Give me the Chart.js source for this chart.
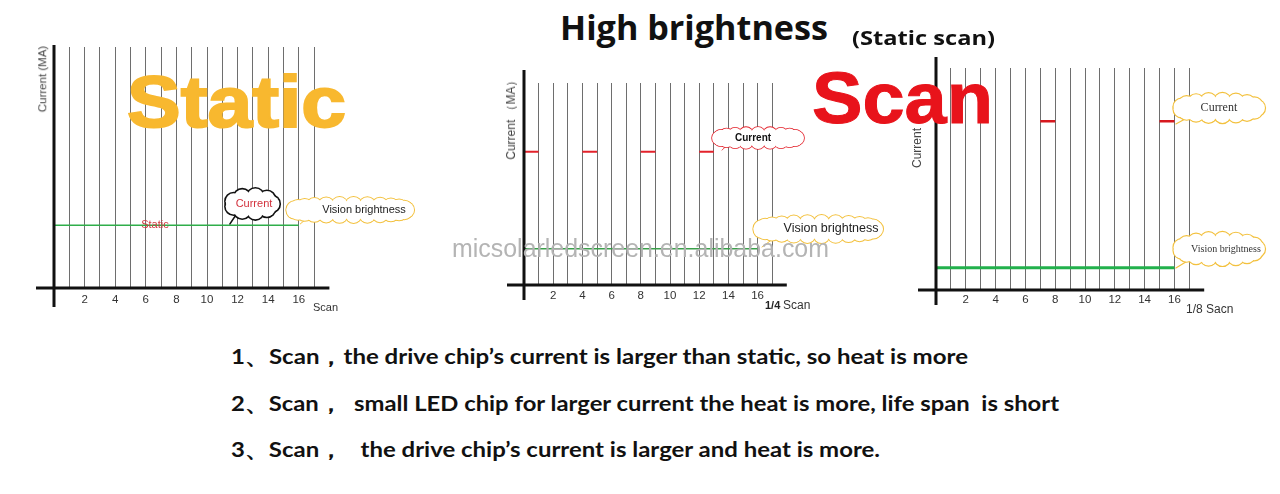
<!DOCTYPE html>
<html>
<head>
<meta charset="utf-8">
<script src="https://cdn.jsdelivr.net/npm/chart.js@4.4.0/dist/chart.umd.min.js"></script>
<style>
html, body { margin: 0; padding: 0; background: #fff; }
body { width: 1280px; height: 494px; position: relative; overflow: hidden; font-family: "Liberation Sans", Arial, sans-serif; }
canvas { position: absolute; }
.t { position: absolute; white-space: pre; line-height: 1; transform-origin: 0 0; }
.rot { position: absolute; white-space: nowrap; line-height: 1; transform: translate(-50%, -50%) rotate(-90deg); color: #444; }
</style>
</head>
<body>
<canvas id="chartStatic" width="440" height="320" style="left:0px;top:0px"></canvas>
<canvas id="chartQuarter" width="420" height="260" style="left:480px;top:60px"></canvas>
<canvas id="chartEighth" width="380" height="290" style="left:900px;top:40px"></canvas>

<div class="rot" style="left:43px;top:79px;font-size:11.5px">Current (MA)</div>
<div class="rot" style="left:511px;top:117px;font-size:12px">Current （MA）</div>
<div class="rot" style="left:917px;top:148px;font-size:12px">Current</div>

<div class="t" style="left:313px;top:302px;font-size:11px;color:#333">Scan</div>
<div class="t" style="left:765px;top:300px;font-size:11px;font-weight:700;color:#222">1/4</div>
<div class="t" style="left:783px;top:299px;font-size:12px;color:#333">Scan</div>
<div class="t" style="left:1186px;top:303px;font-size:12px;color:#333">1/8 Sacn</div>

<div class="t" data-w="377" style="left:452px;top:235px;font-size:26px;color:#b4b4b4">micsolarledscreen.en.alibaba.com</div>

<div class="t" data-w="219" style="left:127px;top:66px;font-size:72px;font-weight:700;color:#f8b82f;-webkit-text-stroke:2px #f8b82f">Static</div>
<div class="t" data-w="181" style="left:812px;top:62px;font-size:72px;font-weight:700;color:#e8131b;-webkit-text-stroke:1px #e8131b">Scan</div>

<div class="t" data-w="268" style="left:560px;top:10px;font-family:'Open Sans';font-size:34px;font-weight:700;color:#111">High brightness</div>
<div class="t" data-w="143" style="left:852px;top:29px;font-family:'Open Sans';font-size:19px;font-weight:700;color:#111">(Static scan)</div>

<div class="t" data-w="737" style="left:231px;top:345px;font-family:Lato;font-size:21px;font-weight:700;color:#111">1、Scan，the drive chip’s current is larger than static, so heat is more</div>
<div class="t" data-w="828" style="left:231px;top:392px;font-family:Lato;font-size:21px;font-weight:700;color:#111">2、Scan，  small LED chip for larger current the heat is more, life span  is short</div>
<div class="t" data-w="649" style="left:231px;top:438px;font-family:Lato;font-size:21px;font-weight:700;color:#111">3、Scan，   the drive chip’s current is larger and heat is more.</div>

<script>
// x axis: 17 scan lines, only the even ones carry a label
var scanLines = [1, 2, 3, 4, 5, 6, 7, 8, 9, 10, 11, 12, 13, 14, 15, 16, 17];
var tickLabels = ['2', '4', '6', '8', '10', '12', '14', '16'];
var xMax = 18;
var yMax = 10;

// static drive: current == vision brightness, one flat line
var staticX = [0, 16];
var staticLevel = 2.6;

// 1/4 scan: each row lit 1 slot in 4, at a higher current
var quarterOnStart = [0, 4, 8, 12];
var quarterOnEnd = [1, 5, 9, 13];
var quarterCurrent = 6.6;
var quarterVisionX = [0, 16];
var quarterVision = 1.8;

// 1/8 scan
var eighthOnStart = [7, 15];
var eighthOnEnd = [8, 16];
var eighthCurrent = 7.6;
var eighthVisionX = [0, 16];
var eighthVision = 1.0;

function flat(xs, level) {
    return xs.map(function (x) { return { x: x, y: level }; });
}

function segments(starts, ends, level, color, width) {
    return starts.map(function (s, i) {
        return {
            data: [{ x: s, y: level }, { x: ends[i], y: level }],
            borderColor: color, borderWidth: width, pointRadius: 0, fill: false, tension: 0
        };
    });
}

function drawCloud(ctx, cx, cy, c) {
    var r = c.bump;
    var ax = c.w / 2 - r, ay = c.h / 2 - r;
    var per = 2 * Math.PI * Math.sqrt((ax * ax + ay * ay) / 2);
    var n = Math.max(8, Math.ceil(per / (r * 1.3)));
    var pts = [];
    for (var i = 0; i < n; i++) {
        var t = i / n * 2 * Math.PI;
        pts.push([cx + ax * Math.cos(t), cy + ay * Math.sin(t)]);
    }
    ctx.strokeStyle = c.stroke;
    ctx.lineCap = 'round';
    if (c.tail) {
        ctx.lineWidth = c.lw;
        ctx.beginPath();
        ctx.moveTo(cx - ax * 0.7, cy + ay);
        ctx.lineTo(c.tail[0], c.tail[1]);
        ctx.stroke();
    }
    ctx.lineWidth = c.lw * 2;
    pts.forEach(function (p) {
        ctx.beginPath(); ctx.arc(p[0], p[1], r, 0, 2 * Math.PI); ctx.stroke();
    });
    ctx.fillStyle = '#fff';
    pts.forEach(function (p) {
        ctx.beginPath(); ctx.arc(p[0], p[1], r, 0, 2 * Math.PI); ctx.fill();
    });
    ctx.beginPath(); ctx.ellipse(cx, cy, ax, ay, 0, 0, 2 * Math.PI); ctx.fill();
    ctx.fillStyle = c.color;
    ctx.font = c.font;
    ctx.textAlign = 'center';
    ctx.textBaseline = 'middle';
    ctx.fillText(c.text, cx + (c.dx || 0), cy + (c.dy || 0));
}

function decorate(opt) {
    return {
        id: 'decorate',
        afterDatasetsDraw: function (chart) {
            var ctx = chart.ctx, xs = chart.scales.x, ys = chart.scales.y, a = chart.chartArea;
            var x0 = xs.getPixelForValue(0), y0 = ys.getPixelForValue(0);
            ctx.save();
            // the two black axes cross and overshoot like in a hand drawing
            ctx.strokeStyle = '#111';
            ctx.lineWidth = 3;
            ctx.beginPath();
            ctx.moveTo(x0, a.top - opt.ext[0]);
            ctx.lineTo(x0, y0 + opt.ext[1]);
            ctx.moveTo(x0 - opt.ext[2], y0);
            ctx.lineTo(xs.getPixelForValue(xMax), y0);
            ctx.stroke();
            (opt.notes || []).forEach(function (n) {
                ctx.fillStyle = n.color;
                ctx.font = n.font;
                ctx.textAlign = 'center';
                ctx.textBaseline = 'middle';
                ctx.fillText(n.text, xs.getPixelForValue(n.x), ys.getPixelForValue(n.y));
            });
            opt.clouds.forEach(function (c) {
                var cc = Object.assign({}, c);
                if (c.tail) cc.tail = [xs.getPixelForValue(c.tail[0]), ys.getPixelForValue(c.tail[1])];
                drawCloud(ctx, xs.getPixelForValue(c.x), ys.getPixelForValue(c.y), cc);
            });
            ctx.restore();
        }
    };
}

function makeChart(id, opt) {
    return new Chart(document.getElementById(id), {
        type: 'line',
        data: { datasets: opt.datasets },
        options: {
            responsive: false,
            animation: false,
            devicePixelRatio: 1,
            layout: { padding: opt.pad },
            plugins: { legend: { display: false }, tooltip: { enabled: false } },
            scales: {
                x: {
                    type: 'linear', min: 0, max: xMax,
                    afterFit: function (s) { s.height = 30; },
                    border: { display: false },
                    grid: {
                        drawTicks: false, lineWidth: 1,
                        color: function (c) {
                            return c.tick && scanLines.indexOf(c.tick.value) >= 0 ? '#6e6e6e' : 'rgba(0,0,0,0)';
                        }
                    },
                    ticks: {
                        stepSize: 1, autoSkip: false, maxRotation: 0, padding: opt.tickPad,
                        color: '#333', font: { size: 11.5, family: 'Liberation Sans' },
                        callback: function (v) { return tickLabels.indexOf(String(v)) >= 0 ? String(v) : ''; }
                    }
                },
                y: { display: false, min: 0, max: yMax }
            }
        },
        plugins: [decorate(opt)]
    });
}

var yellow = '#f3c13e';

makeChart('chartStatic', {
    pad: { left: 54, top: 47, right: 110.6, bottom: 2 },
    tickPad: 5,
    ext: [2, 19, 18],
    datasets: [
        { data: flat(staticX, staticLevel), borderColor: '#2fae4a', borderWidth: 1.5, pointRadius: 0, fill: false }
    ],
    notes: [{ text: 'Static', x: 6.6, y: 2.6, color: '#d2393f', font: '11px "Liberation Sans"' }],
    clouds: [
        { x: 12.94, y: 3.49, w: 55, h: 31, bump: 8, stroke: '#111', lw: 1.6, tail: [11.5, 2.66],
          text: 'Current', font: '11px "Liberation Sans"', color: '#d2313c', dx: 2 },
        { x: 19.35, y: 3.24, w: 128, h: 26, bump: 8, stroke: yellow, lw: 1, tail: [16.1, 2.66],
          text: 'Vision brightness', font: '11px "Liberation Sans"', color: '#222', dx: 14 }
    ]
});

makeChart('chartQuarter', {
    pad: { left: 44, top: 23, right: 113.2, bottom: 5 },
    tickPad: 4,
    ext: [13, 15, 17],
    datasets: segments(quarterOnStart, quarterOnEnd, quarterCurrent, '#e3222b', 2).concat([
        { data: flat(quarterVisionX, quarterVision), borderColor: '#3a9f4a', borderWidth: 1.5, pointRadius: 0, fill: false }
    ]),
    clouds: [
        { x: 16.03, y: 7.28, w: 92, h: 22, bump: 7, stroke: '#e3222b', lw: 0.8, tail: [13.56, 6.68],
          text: 'Current', font: 'bold 10px "Liberation Sans"', color: '#111', dx: -5 },
        { x: 20.14, y: 2.77, w: 130, h: 28, bump: 8, stroke: yellow, lw: 1, tail: [16.3, 1.88],
          text: 'Vision brightness', font: '12.5px "Liberation Sans"', color: '#222', dx: 13 }
    ]
});

makeChart('chartEighth', {
    pad: { left: 36, top: 28, right: 75.8, bottom: 10 },
    tickPad: 3,
    ext: [11, 15, 18],
    datasets: segments(eighthOnStart, eighthOnEnd, eighthCurrent, '#d7191f', 2.5).concat([
        { data: flat(eighthVisionX, eighthVision), borderColor: '#22b14c', borderWidth: 3, pointRadius: 0, fill: false }
    ]),
    clouds: [
        { x: 18.99, y: 8.2, w: 92, h: 30, bump: 8, stroke: yellow, lw: 1.2, tail: [16.1, 7.48],
          text: 'Current', font: '12px "Liberation Serif"', color: '#333' },
        { x: 18.99, y: 1.85, w: 92, h: 34, bump: 8, stroke: yellow, lw: 1.2, tail: [16.1, 0.99],
          text: 'Vision brightness', font: '10px "Liberation Serif"', color: '#333', dx: 7 }
    ]
});

// squeeze or stretch the free text so each line spans the same width as in the picture
document.querySelectorAll('[data-w]').forEach(function (el) {
    var w = el.getBoundingClientRect().width;
    el.style.transform = 'scaleX(' + (parseFloat(el.getAttribute('data-w')) / w) + ')';
});
</script>
</body>
</html>
